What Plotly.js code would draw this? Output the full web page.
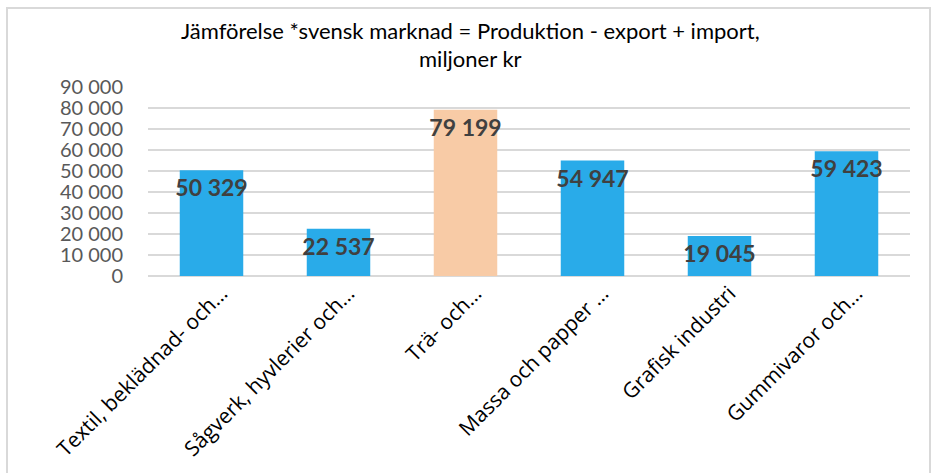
<!DOCTYPE html>
<html><head><meta charset="utf-8">
<script src="https://cdn.plot.ly/plotly-3.0.1.min.js"></script>
<style>
html,body{margin:0;padding:0;background:#fff;}
#chart{width:935px;height:473px;}
#frame{position:absolute;left:6px;top:7px;width:921px;height:475px;border:2px solid #d9d9d9;pointer-events:none;}
</style></head>
<body>
<div id="chart"></div>
<div id="frame"></div>
<script>
const categories = ["Textil, beklädnad- och…","Sågverk, hyvlerier och…","Trä- och…","Massa och papper …","Grafisk industri","Gummivaror och…"];
const values = [50329, 22537, 79199, 54947, 19045, 59423];
const highlighted = "Trä- och…";
const titleText = "Jämförelse *svensk marknad = Produktion - export + import,<br>miljoner kr";

const colors = categories.map(c => c === highlighted ? "#f8cba6" : "#29abe9");

Plotly.newPlot("chart", [{
  type: "bar",
  x: categories,
  y: values,
  marker: {color: colors},
  texttemplate: "%{y:,d}",
  textposition: "inside",
  insidetextanchor: "end",
  constraintext: "none",
  textangle: 0,
  textfont: {family: "Lato", size: 23, color: "#404040", weight: 700},
  hoverinfo: "none"
}], {
  width: 935, height: 473,
  separators: ", ",
  margin: {l: 148, r: 25, t: 87, b: 197},
  paper_bgcolor: "#ffffff",
  plot_bgcolor: "#ffffff",
  bargap: 0.5,
  showlegend: false,
  title: {text: titleText, x: 0.503, xref: "container", y: 0.918, yref: "container", yanchor: "middle",
          font: {family: "Lato", size: 22, color: "#000000"}},
  xaxis: {
    type: "category",
    tickangle: -45,
    ticklabelshift: 10,
    tickfont: {family: "Open Sans", size: 21, color: "#000000"},
    showgrid: false, zeroline: false, showline: false, ticks: ""
  },
  yaxis: {
    range: [0, 90000],
    dtick: 10000,
    tickformat: ",d",
    tickfont: {family: "Lato", size: 20, color: "#595959"},
    showgrid: true, gridcolor: "#d9d9d9", gridwidth: 1.5,
    zeroline: true, zerolinecolor: "#d9d9d9", zerolinewidth: 1.5,
    ticks: "outside", ticklen: 20, tickcolor: "rgba(0,0,0,0)",
    showline: false
  }
}, {staticPlot: true});
</script>
</body></html>
